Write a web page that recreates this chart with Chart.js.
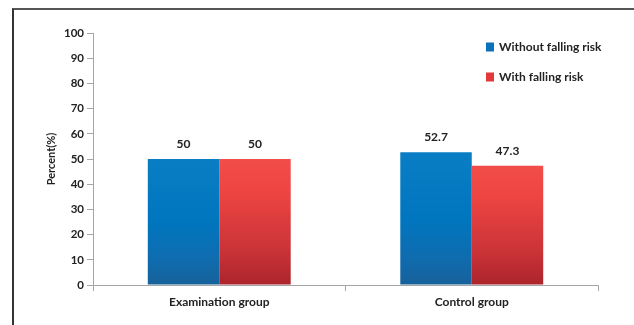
<!DOCTYPE html>
<html>
<head>
<meta charset="utf-8">
<script src="https://cdn.jsdelivr.net/npm/chart.js@4/dist/chart.umd.min.js"></script>
<style>
  html,body{margin:0;padding:0;background:#fff;}
  #wrap{position:relative;width:634px;height:325px;overflow:hidden;}
  #frame{position:absolute;left:12px;top:8px;width:640px;height:330px;border-top:2px solid #555;border-left:2px solid #333;}
  canvas{position:absolute;left:0;top:0;}
</style>
</head>
<body>
<div id="wrap">
  <div id="frame"></div>
  <canvas id="c" width="634" height="325"></canvas>
</div>
<script>
const categories = ["Examination group", "Control group"];
const withoutRisk = [50, 52.7];
const withRisk = [50, 47.3];
const seriesNames = ["Without falling risk", "With falling risk"];
const yTicks = [0, 10, 20, 30, 40, 50, 60, 70, 80, 90, 100];

const FONT = "Lato, 'Open Sans', sans-serif";

function barGradient(stops) {
  return function(ctx) {
    const chart = ctx.chart;
    const area = chart.chartArea;
    if (!area || ctx.type !== 'data') return stops[0][1];
    const v = ctx.raw;
    const top = chart.scales.y.getPixelForValue(v);
    const bottom = chart.scales.y.getPixelForValue(0);
    const g = chart.ctx.createLinearGradient(0, top, 0, bottom);
    stops.forEach(s => g.addColorStop(s[0], s[1]));
    return g;
  };
}

const blueStops = [[0, '#0a7ec4'], [0.5, '#0076bf'], [0.8, '#0f6cae'], [1, '#17619a']];
const redStops = [[0, '#f24d49'], [0.25, '#ee4542'], [0.7, '#cc3438'], [1, '#ac242c']];
const legendColors = ['#0b72b9', '#e23a3b'];

const valueLabels = {
  id: 'valueLabels',
  afterDatasetsDraw(chart) {
    const ctx = chart.ctx;
    ctx.save();
    ctx.font = "bold 12px " + FONT;
    ctx.fillStyle = '#222';
    ctx.textAlign = 'center';
    ctx.textBaseline = 'middle';
    chart.data.datasets.forEach((ds, i) => {
      const meta = chart.getDatasetMeta(i);
      meta.data.forEach((bar, j) => {
        ctx.fillText(String(ds.data[j]), bar.x, bar.y - 15);
      });
    });
    ctx.restore();
  }
};

const customLegend = {
  id: 'customLegend',
  afterDraw(chart) {
    const ctx = chart.ctx;
    ctx.save();
    ctx.font = "bold 12px " + FONT;
    ctx.textBaseline = 'middle';
    ctx.textAlign = 'left';
    chart.data.datasets.forEach((ds, i) => {
      const y = 47 + i * 30;
      ctx.fillStyle = legendColors[i];
      ctx.fillRect(486, y - 4.5, 8, 9);
      ctx.fillStyle = '#222';
      ctx.fillText(ds.label, 499, y);
    });
    ctx.restore();
  }
};

new Chart(document.getElementById('c'), {
  type: 'bar',
  data: {
    labels: categories,
    datasets: [
      { label: seriesNames[0], data: withoutRisk, backgroundColor: barGradient(blueStops), borderWidth: 0 },
      { label: seriesNames[1], data: withRisk, backgroundColor: barGradient(redStops), borderWidth: 0 }
    ]
  },
  options: {
    responsive: false,
    animation: false,
    devicePixelRatio: 1,
    layout: { padding: { left: 0, top: 33, right: 36, bottom: 0 } },
    plugins: {
      legend: { display: false },
      tooltip: { enabled: false }
    },
    datasets: { bar: { categoryPercentage: 0.566, barPercentage: 1 } },
    scales: {
      x: {
        grid: { display: true, drawOnChartArea: false, drawTicks: true, tickLength: 6, color: '#a6a6a6', offset: true },
        border: { display: true, color: '#a6a6a6', width: 1 },
        ticks: { font: { family: FONT, size: 12, weight: 'bold' }, color: '#222', padding: 4 },
        afterFit(scale) { scale.height = 40; }
      },
      y: {
        min: 0, max: 100,
        afterBuildTicks(scale) { scale.ticks = yTicks.map(v => ({ value: v })); },
        grid: { display: true, drawOnChartArea: false, drawTicks: true, tickLength: 6, color: '#a6a6a6' },
        border: { display: true, color: '#a6a6a6', width: 1 },
        ticks: { font: { family: FONT, size: 11.5, weight: 'bold' }, color: '#222', padding: 3 },
        title: { display: true, text: 'Percent(%)', font: { family: FONT, size: 11, weight: 'bold' }, color: '#222', padding: { top: 45, bottom: 0 } },
        afterFit(scale) { scale.width = 93; }
      }
    }
  },
  plugins: [valueLabels, customLegend]
});
</script>
</body>
</html>
